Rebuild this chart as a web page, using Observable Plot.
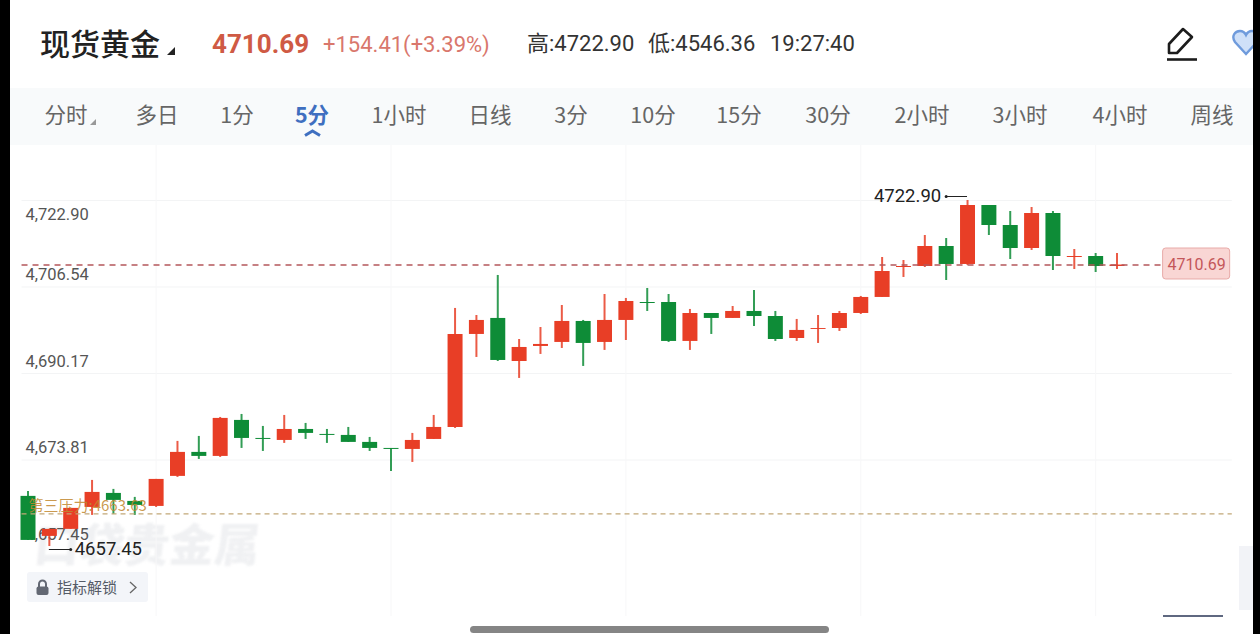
<!DOCTYPE html>
<html><head><meta charset="utf-8">
<script src="https://cdn.jsdelivr.net/npm/d3@7"></script>
<script src="https://cdn.jsdelivr.net/npm/@observablehq/plot@0.6"></script>
<style>
html,body{margin:0;padding:0;width:1260px;height:634px;overflow:hidden;background:#fff;font-family:"Noto Sans CJK SC","Noto Sans",sans-serif}
.a{position:absolute;white-space:nowrap;line-height:1}
.tab{position:absolute;top:102px;font-size:21.5px;color:#666;transform:translateX(-50%);white-space:nowrap;line-height:1.1}
#chart{position:absolute;left:0;top:145px}
#chart svg{display:block;overflow:visible}
</style></head><body>
<div class="a" style="left:10px;top:88px;width:1243px;height:57px;background:#f8fafb"></div>
<div class="a" id="wm" style="left:35px;top:520px;font-size:45px;font-weight:900;color:#f0f1f3;transform:skewX(-6deg);filter:blur(1px)">口袋贵金属</div>
<div id="chart"></div>
<div class="a" style="left:40px;top:27px;font-size:30px;font-weight:500;color:#222">现货黄金</div>
<svg class="a" style="left:166px;top:46px" width="10" height="10"><path d="M1 9L9 1V9Z" fill="#222"/></svg>
<div class="a" style="left:212px;top:29px;font:700 26px Roboto,sans-serif;color:#cf5a44">4710.69</div>
<div class="a" style="left:323px;top:32px;font:400 22px Roboto,sans-serif;color:#d9776c">+154.41(+3.39%)</div>
<div class="a" style="left:527px;top:32px;font-size:22px;color:#333;line-height:1.05;font-family:Roboto,'Noto Sans CJK SC'">高:4722.90</div>
<div class="a" style="left:648px;top:32px;font-size:22px;color:#333;line-height:1.05;font-family:Roboto,'Noto Sans CJK SC'">低:4546.36</div>
<div class="a" style="left:770px;top:32px;font:400 22px Roboto,sans-serif;color:#333;line-height:1.05">19:27:40</div>
<svg class="a" style="left:1164px;top:24px" width="36" height="38" fill="none" stroke="#1c1c1c" stroke-width="2.6">
<path d="M5 29V20L19 5L28 13L13 29Z" stroke-linejoin="round"/><path d="M3 35.5H33"/></svg>
<svg class="a" style="left:1231px;top:28px" width="30" height="30"><path d="M15 26L4 14C0 8 4 3 9 3C12 3 14 5 15 7C16 5 18 3 21 3C26 3 30 8 26 14Z" fill="#cfe0f8" stroke="#6f9bdc" stroke-width="2.4"/></svg>
<div id="tabs"></div>
<svg class="a" style="left:89px;top:118px" width="8" height="8"><path d="M1 7L7 1V7Z" fill="#999"/></svg>
<svg class="a" style="left:304px;top:129px" width="17" height="8" fill="none" stroke="#3f6fc0" stroke-width="3"><path d="M1 6.5L8.5 2L16 6.5"/></svg>
<div class="a" style="left:27px;top:572px;width:121px;height:30px;background:#f3f5f9;border-radius:3px"></div>
<svg class="a" style="left:35px;top:579px" width="15" height="17"><path d="M4 8V5a3.5 3.5 0 0 1 7 0V8" fill="none" stroke="#636873" stroke-width="2"/><rect x="1.500" y="7.500" width="12" height="8.500" rx="2" fill="#636873"/></svg>
<div class="a" style="left:57px;top:579px;font-size:15px;color:#555b66">指标解锁</div>
<svg class="a" style="left:128px;top:580px" width="10" height="15" fill="none" stroke="#666" stroke-width="1.300"><path d="M2 2L8 7.500L2 13"/></svg>
<div class="a" style="left:1163px;top:615px;width:60px;height:2px;background:#5f6880"></div>
<div class="a" style="left:1239px;top:546px;width:14px;height:64px;background:#f2f3f7"></div>
<div class="a" style="left:470px;top:626px;width:359px;height:7px;border-radius:4px;background:#858585"></div>
<div class="a" style="left:0;top:0;width:10px;height:634px;background:#000"></div>
<div class="a" style="left:1253px;top:0;width:7px;height:634px;background:#000"></div>
<script>
const tabNames = ["分时","多日","1分","5分","1小时","日线","3分","10分","15分","30分","2小时","3小时","4小时","周线"];
const tabCenters = [66,157,237,312,399,490,571,653,739,828,922,1020,1120,1212];

const opens  = [4666.93,4659.36,4660.69,4664.84,4667.49,4665.98,4665.03,4670.71,4675.25,4674.49,4681.30,4677.89,4677.51,4679.59,4678.65,4678.46,4677.14,4676.00,4675.81,4677.70,4679.97,4697.56,4700.59,4692.45,4695.29,4696.05,4700.02,4696.05,4700.21,4703.61,4703.61,4696.24,4701.53,4700.59,4701.91,4700.96,4696.80,4698.51,4698.69,4701.53,4704.56,4710.23,4710.42,4714.20,4710.80,4721.95,4718.17,4713.82,4720.44,4712.12,4712.31,4710.42];
const closes = [4658.60,4660.69,4664.66,4667.68,4666.17,4665.22,4670.14,4675.25,4674.49,4681.68,4677.89,4677.70,4679.59,4678.84,4678.46,4677.14,4676.00,4675.81,4677.51,4679.97,4697.56,4700.21,4692.64,4695.10,4695.67,4700.02,4695.86,4700.21,4703.80,4703.42,4696.24,4701.53,4700.59,4701.91,4700.96,4696.61,4698.32,4698.69,4701.53,4704.56,4709.47,4710.42,4714.20,4710.80,4721.95,4718.17,4713.82,4720.44,4712.31,4712.31,4710.42,4710.69];
const highs  = [4667.87,4660.69,4664.66,4669.95,4668.25,4666.74,4670.14,4677.33,4678.27,4681.86,4682.43,4680.16,4682.24,4680.73,4679.59,4679.97,4678.08,4676.00,4678.84,4682.24,4702.48,4701.15,4708.72,4696.61,4698.88,4703.04,4700.21,4705.12,4704.37,4706.26,4705.12,4702.29,4701.53,4702.85,4705.88,4701.91,4700.40,4701.15,4701.91,4704.75,4712.12,4711.55,4716.28,4715.71,4722.90,4721.95,4720.82,4721.58,4720.82,4713.63,4712.88,4712.88];
const lows   = [4658.60,4657.45,4660.69,4663.33,4663.52,4663.33,4664.84,4670.52,4673.92,4674.30,4676.00,4675.43,4676.95,4677.70,4676.95,4677.14,4675.43,4671.65,4673.35,4677.70,4679.78,4693.21,4692.45,4689.24,4693.78,4694.91,4691.51,4694.54,4696.42,4701.91,4696.05,4694.54,4697.56,4700.59,4699.07,4696.24,4696.24,4695.86,4698.13,4701.34,4704.56,4708.34,4710.23,4707.77,4710.61,4716.28,4711.74,4713.45,4709.66,4709.85,4709.28,4709.85];
const priceTicks = [4722.90,4706.54,4690.17,4673.81,4657.45];
const gridColumns = [6,17,28,39,50];
const lastPrice = 4710.69;
const resistance = 4663.63;
const resistanceLabel = "第三压力:4663.63";
const dayHigh = 4722.90, dayLow = 4657.45;

document.getElementById("tabs").innerHTML = tabNames.map((t,i)=>
  `<div class="tab" style="left:${tabCenters[i]}px;${t==="5分"?"color:#3f6fc0;font-weight:700":""}">${t}</div>`).join("");

const candles = opens.map((o,i)=>({i,o,c:closes[i],h:highs[i],l:lows[i],col:closes[i]>=o?"#e83e26":"#0e8c37"}));
const fmt = d3.format(",.2f");
const f2 = d3.format(".2f");
const FF = "Roboto,'Noto Sans',sans-serif";

const chart = Plot.plot({
  width:1260,height:489,marginTop:0,marginLeft:0,marginRight:0,marginBottom:18,
  style:{background:"transparent",fontFamily:FF,fontSize:"15px",overflow:"visible"},
  x:{type:"linear",domain:[0,51],range:[27.5,1116.5],axis:null},
  y:{type:"linear",domain:[4657.45,4722.90],range:[401,55],axis:null},
  marks:[
    Plot.ruleY(priceTicks.slice(0,4),{x1:-0.28,x2:56.4,stroke:"#f3f4f5",strokeWidth:1}),
    Plot.ruleX(gridColumns,{stroke:"#f7f7f8",strokeWidth:1}),
    Plot.text(priceTicks.slice(0,1),{y:d=>d,frameAnchor:"left",dx:25,dy:14,text:fmt,fill:"#555",fontSize:16.5,textAnchor:"start"}),
    Plot.text(priceTicks.slice(1),{y:d=>d,frameAnchor:"left",dx:25,dy:-12,text:fmt,fill:"#555",fontSize:16.5,textAnchor:"start"}),
    Plot.ruleX(candles,{x:"i",y1:"l",y2:"h",stroke:"col",strokeWidth:2,strokeOpacity:.85}),
    Plot.ruleX(candles,{x:"i",y1:"o",y2:"c",stroke:"col",strokeWidth:15}),
    Plot.ruleY([lastPrice],{x1:-0.28,x2:53.16,stroke:"#b4575b",strokeWidth:1.5,strokeDasharray:"6,5"}),
    Plot.ruleY([resistance],{x1:-0.28,x2:56.4,stroke:"#c2a878",strokeWidth:1.2,strokeDasharray:"5,4"}),
    Plot.text([resistance],{y:d=>d,frameAnchor:"left",dx:28,dy:-8,text:()=>resistanceLabel,fill:"#c2882f",fillOpacity:.85,fontSize:15,textAnchor:"start",fontFamily:"'Noto Sans CJK SC',Roboto"}),
    Plot.rect([lastPrice],{x1:53.16,x2:56.3,y1:4707.96,y2:4713.82,fill:"#f9d6d4",stroke:"#e8aaa8",rx:3}),
    Plot.text([lastPrice],{x:54.73,y:d=>d,text:f2,fill:"#c4565a",fontSize:16}),
    Plot.ruleY([dayHigh],{x1:43,x2:44,dy:-4,stroke:"#222",strokeWidth:1}),
    Plot.dot([dayHigh],{x:43,y:d=>d,dy:-4,r:1.5,fill:"#222"}),
    Plot.text([dayHigh],{x:43,y:d=>d,dy:-4,dx:-5,text:f2,textAnchor:"end",fill:"#222",fontSize:18.5}),
    Plot.ruleY([dayLow],{x1:1,x2:2,dy:3,stroke:"#222",strokeWidth:1}),
    Plot.dot([dayLow],{x:2,y:d=>d,dy:3,r:1.5,fill:"#222"}),
    Plot.text([dayLow],{x:2,y:d=>d,dy:3,dx:4,text:f2,textAnchor:"start",fill:"#222",fontSize:18.5})
  ]
});
document.getElementById("chart").append(chart);
</script>
</body></html>
